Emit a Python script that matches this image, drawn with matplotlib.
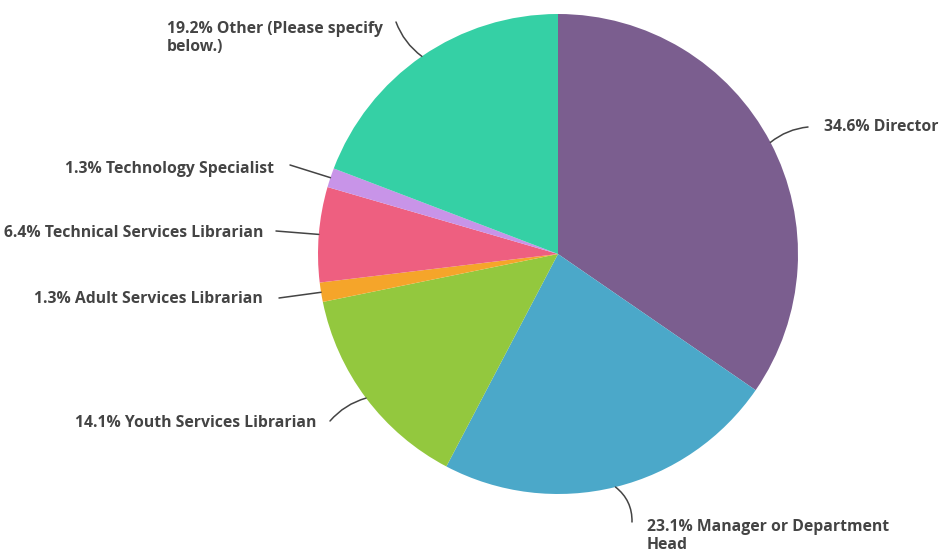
import numpy as np
import matplotlib
matplotlib.use("Agg")
import matplotlib.pyplot as plt

categories = ["Director", "Manager or Department\nHead", "Youth Services Librarian",
              "Adult Services Librarian", "Technical Services Librarian",
              "Technology Specialist", "Other (Please specify\nbelow.)"]
values = [34.6, 23.1, 14.1, 1.3, 6.4, 1.3, 19.2]
colors = ["#7b5e8f", "#4ba8c9", "#93c83e", "#f5a52a", "#ee5f80", "#c894e8", "#35d0a5"]

W, H = 941, 552
fig = plt.figure(figsize=(W / 100, H / 100), dpi=100)
ax = fig.add_axes([0, 0, 1, 1])

cx, cy, r = 558, H - 254, 240
wedges, _ = ax.pie(values, colors=colors, startangle=90, counterclock=False,
                   center=(cx, cy), radius=r, frame=True,
                   wedgeprops=dict(linewidth=0))
ax.set_xlim(0, W)
ax.set_ylim(0, H)
ax.set_aspect("equal")
ax.axis("off")

# label anchor positions (pixels from top-left), alignment, connector end, curvature
label_pos = [
    ((824, 127), "left", (808, 127), 0.15),
    ((647, 536), "left", (632, 522), 0.25),
    ((316, 423), "right", (330, 421), -0.15),
    ((263, 299), "right", (279, 298), 0.0),
    ((263, 233), "right", (276, 231), 0.0),
    ((274, 169), "right", (290, 165), 0.0),
    ((167, 38), "left", (396, 22), 0.15),
]

cum = np.cumsum([0] + values[:-1])
for i, (cat, v) in enumerate(zip(categories, values)):
    mid = cum[i] + v / 2
    ang = np.deg2rad(90 - mid / 100 * 360)
    sx, sy = cx + r * np.cos(ang), cy + r * np.sin(ang)
    (tx, ty), ha, (ex, ey), rad = label_pos[i]
    ax.annotate("", xy=(sx, sy), xytext=(ex, H - ey),
                arrowprops=dict(arrowstyle="-", color="#444444", lw=1.1,
                                connectionstyle=f"arc3,rad={rad}",
                                shrinkA=0, shrinkB=0))
    ax.text(tx, H - ty, f"{v}% {cat}", ha=ha, va="center", fontsize=11.3,
            fontweight="bold", family=["Open Sans", "DejaVu Sans"], color="#444444",
            linespacing=1.2)

fig.savefig("out.png", dpi=100)
